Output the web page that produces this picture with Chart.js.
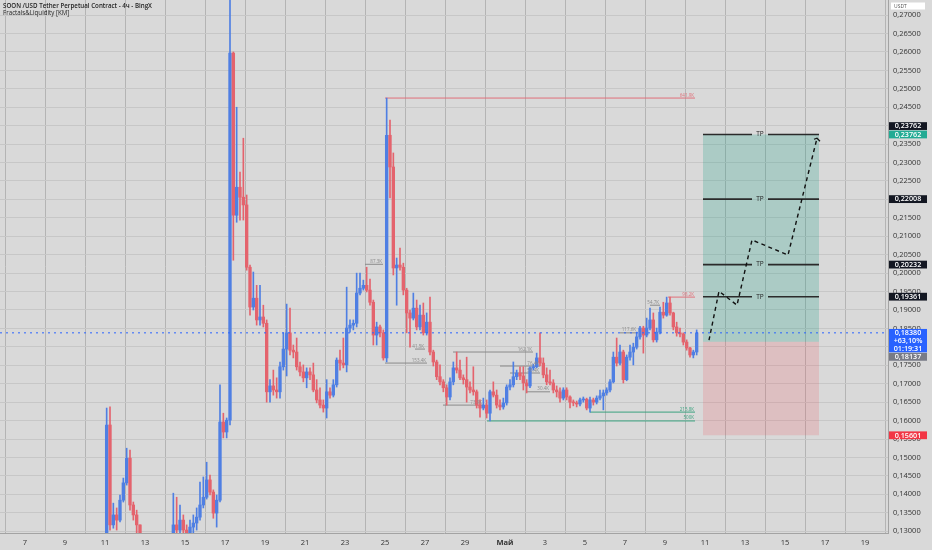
<!DOCTYPE html>
<html>
<head>
<meta charset="utf-8">
<script src="https://cdn.jsdelivr.net/npm/chart.js@4.4.1/dist/chart.umd.min.js"></script>
<style>
  html, body { margin: 0; padding: 0; background: #d9d9d9; }
  #wrap { width: 932px; height: 550px; position: relative; }
</style>
</head>
<body>
<div id="wrap"><canvas id="chart"></canvas></div>
<script>
// SOON/USDT 4h candles, 11 Apr -> 10 May (days counted from 7 Apr)
const firstOpen = 0.1225;
const closes = [
  0.1588,0.1317,0.1344,0.1330,0.1384,0.1431,0.1498,0.1371,0.1344,0.1317,
  0.1268,0.1250,0.1238,0.1245,0.1232,0.1225,0.1240,0.1252,0.1248,0.1262,
  0.1317,0.1303,0.1330,0.1303,0.1289,0.1311,0.1322,0.1338,0.1371,0.1392,
  0.1439,0.1406,0.1349,0.1384,0.1596,0.1569,0.1601,0.2597,0.2157,0.2233,
  0.2206,0.2185,0.2016,0.1908,0.1932,0.1873,0.1881,0.1864,0.1678,0.1694,
  0.1683,0.1678,0.1746,0.1794,0.1838,0.1791,0.1786,0.1746,0.1732,0.1716,
  0.1732,0.1724,0.1683,0.1656,0.1642,0.1634,0.1678,0.1669,0.1697,0.1764,
  0.1756,0.1751,0.1851,0.1859,0.1864,0.1946,0.1959,0.1967,0.1954,0.1921,
  0.1832,0.1854,0.1838,0.1770,0.2374,0.2288,0.2014,0.2022,0.2016,0.1954,
  0.1892,0.1878,0.1905,0.1854,0.1886,0.1838,0.1867,0.1786,0.1759,0.1719,
  0.1705,0.1689,0.1664,0.1705,0.1743,0.1737,0.1716,0.1711,0.1691,0.1683,
  0.1678,0.1642,0.1634,0.1642,0.1620,0.1678,0.1669,0.1642,0.1637,0.1648,
  0.1691,0.1697,0.1719,0.1729,0.1721,0.1702,0.1694,0.1743,0.1746,0.1770,
  0.1756,0.1724,0.1705,0.1702,0.1683,0.1678,0.1661,0.1683,0.1664,0.1650,
  0.1648,0.1645,0.1656,0.1658,0.1634,0.1656,0.1650,0.1661,0.1667,0.1675,
  0.1683,0.1705,0.1772,0.1756,0.1786,0.1711,0.1772,0.1786,0.1799,0.1827,
  0.1851,0.1832,0.1851,0.1873,0.1819,0.1840,0.1894,0.1886,0.1919,0.1892,
  0.1854,0.1838,0.1835,0.1813,0.1797,0.1778,0.1786,0.1838
];
const highs = [
  0.1634,0.1637,0.1376,0.1363,0.1398,0.1444,0.1525,0.1520,0.1379,0.1357,
  0.1317,0.1275,0.1262,0.1260,0.1255,0.1248,0.1258,0.1270,0.1265,0.1276,
  0.1403,0.1392,0.1371,0.1344,0.1317,0.1330,0.1344,0.1363,0.1433,0.1447,
  0.1487,0.1452,0.1412,0.1398,0.1697,0.1620,0.1607,0.2754,0.2600,0.2450,
  0.2274,0.2366,0.2212,0.2022,0.2003,0.1967,0.1967,0.1913,0.1873,0.1711,
  0.1737,0.1716,0.1759,0.1838,0.1916,0.1905,0.1805,0.1824,0.1759,0.1751,
  0.1743,0.1743,0.1756,0.1711,0.1689,0.1656,0.1711,0.1689,0.1711,0.1770,
  0.1791,0.1824,0.1962,0.1873,0.1873,0.2000,0.2000,0.1981,0.2016,0.1984,
  0.1927,0.1867,0.1859,0.1846,0.2475,0.2415,0.2326,0.2041,0.2068,0.2027,
  0.1959,0.1900,0.1946,0.1927,0.1913,0.1919,0.1892,0.1935,0.1791,0.1764,
  0.1751,0.1711,0.1697,0.1716,0.1759,0.1786,0.1764,0.1724,0.1772,0.1705,
  0.1746,0.1683,0.1656,0.1661,0.1656,0.1683,0.1705,0.1683,0.1656,0.1661,
  0.1697,0.1711,0.1759,0.1737,0.1746,0.1746,0.1711,0.1746,0.1753,0.1783,
  0.1838,0.1770,0.1743,0.1737,0.1711,0.1694,0.1689,0.1689,0.1689,0.1667,
  0.1656,0.1653,0.1661,0.1664,0.1661,0.1664,0.1661,0.1667,0.1683,0.1683,
  0.1689,0.1711,0.1786,0.1824,0.1805,0.1791,0.1778,0.1805,0.1810,0.1840,
  0.1856,0.1856,0.1878,0.1905,0.1892,0.1851,0.1908,0.1921,0.1935,0.1935,
  0.1894,0.1867,0.1851,0.1838,0.1819,0.1799,0.1791,0.1846
];
const lows = [
  0.1208,0.1303,0.1308,0.1303,0.1325,0.1379,0.1425,0.1357,0.1330,0.1289,
  0.1250,0.1235,0.1225,0.1228,0.1218,0.1210,0.1220,0.1236,0.1238,0.1245,
  0.1254,0.1276,0.1289,0.1276,0.1262,0.1276,0.1289,0.1303,0.1330,0.1363,
  0.1387,0.1398,0.1335,0.1311,0.1379,0.1553,0.1553,0.1588,0.2035,0.2138,
  0.2144,0.2144,0.2008,0.1886,0.1900,0.1859,0.1859,0.1854,0.1650,0.1650,
  0.1669,0.1661,0.1661,0.1737,0.1721,0.1778,0.1770,0.1737,0.1721,0.1705,
  0.1689,0.1711,0.1678,0.1648,0.1634,0.1623,0.1607,0.1661,0.1664,0.1691,
  0.1737,0.1743,0.1732,0.1840,0.1846,0.1854,0.1941,0.1954,0.1949,0.1913,
  0.1805,0.1805,0.1827,0.1764,0.1759,0.2204,0.1995,0.1913,0.2008,0.1941,
  0.1838,0.1799,0.1873,0.1846,0.1846,0.1832,0.1832,0.1778,0.1748,0.1711,
  0.1697,0.1678,0.1642,0.1656,0.1697,0.1729,0.1711,0.1699,0.1650,0.1675,
  0.1669,0.1634,0.1609,0.1629,0.1607,0.1599,0.1664,0.1634,0.1629,0.1631,
  0.1642,0.1683,0.1691,0.1711,0.1711,0.1683,0.1675,0.1689,0.1737,0.1743,
  0.1748,0.1716,0.1697,0.1697,0.1675,0.1664,0.1650,0.1656,0.1656,0.1634,
  0.1640,0.1637,0.1640,0.1650,0.1629,0.1623,0.1642,0.1645,0.1656,0.1629,
  0.1669,0.1678,0.1702,0.1748,0.1751,0.1702,0.1708,0.1764,0.1751,0.1794,
  0.1821,0.1783,0.1827,0.1846,0.1813,0.1813,0.1835,0.1878,0.1883,0.1886,
  0.1846,0.1829,0.1827,0.1805,0.1791,0.1772,0.1770,0.1778
];

// bottom axis labels, one every 2 days starting 7 Apr
const xTickLabels = ['7','9','11','13','15','17','19','21','23','25','27','29',
                     'Май','3','5','7','9','11','13','15','17','19'];
const yTickMin = 0.13, yTickMax = 0.27, yTickStep = 0.005;

// Fractals & Liquidity levels
const levelPrices = [0.2475, 0.1935, 0.1623, 0.1599, 0.2024, 0.1756, 0.1794, 0.1786, 0.1748, 0.1729, 0.1642, 0.1678, 0.1838, 0.1913];
const levelStart  = [18.0, 32.15, 28.25, 23.1, 17.0, 18.0, 19.5, 21.4, 23.75, 24.25, 20.9, 25.1, 29.75, 31.25];
const levelEnd    = [33.5, 33.5, 33.5, 33.5, 17.9, 20.1, 20.0, 25.4, 25.75, 25.75, 22.9, 26.25, 30.6, 31.75];
const levelKind   = ['high','high','low','low','mid','mid','mid','mid','mid','mid','mid','mid','mid','mid'];
const levelLabels = ['641.9K','98.2K','215.8K','500K','87.3K','153.4K','41.5K','162.1K','76.4K','56.4K','73.9K','30.4K','117.6K','54.7K'];

// long position tool
const tpLevels = [0.23762, 0.22008, 0.20232, 0.19361];
const entryPrice = 0.18137;
const stopPrice = 0.15601;
const posStart = 33.9, posEnd = 39.7, tpLabelDay = 36.75;

// hand-drawn projection path
const projDays   = [34.2, 34.7, 35.6, 36.35, 38.15, 39.6];
const projPrices = [0.1818, 0.1951, 0.1913, 0.2090, 0.2049, 0.2366];

const lastPrice = 0.18380;
const lastChange = '+63,10%';
const countdown = '01:19:31';

const UP = '#4f7fe3', DOWN = '#e4636d';
const X_MIN = -1.25, X_MAX = 43.15, Y_MIN = 0.1295, Y_MAX = 0.2741;
const FIRST_DAY = 4, CANDLE_DAYS = 1 / 6;

const fmt = v => v.toFixed(5).replace('.', ',');
const opens = [firstOpen].concat(closes.slice(0, -1));
const times = closes.map((c, i) => FIRST_DAY + (i + 0.5) * CANDLE_DAYS);
const candleColors = closes.map((c, i) => c >= opens[i] ? UP : DOWN);

const levelColor = { high: '#e0707a', low: '#3aa27f', mid: '#8a8a8a' };

const datasets = [];
// last price dotted line
datasets.push({
  type: 'line', order: 0,
  data: [{ x: X_MIN, y: lastPrice }, { x: X_MAX, y: lastPrice }],
  borderColor: '#2962ff', borderWidth: 1, borderDash: [2, 4], pointRadius: 0
});
// candle bodies and wicks
datasets.push({
  type: 'bar', order: 1, grouped: false, barThickness: 2.7, minBarLength: 1,
  data: times.map((t, i) => ({ x: t, y: [opens[i], closes[i]] })),
  backgroundColor: candleColors, borderWidth: 0
});
datasets.push({
  type: 'bar', order: 2, grouped: false, barThickness: 1,
  data: times.map((t, i) => ({ x: t, y: [lows[i], highs[i]] })),
  backgroundColor: candleColors, borderWidth: 0
});
// fractal levels
levelPrices.forEach((p, i) => {
  datasets.push({
    type: 'line', order: 3,
    data: [{ x: levelStart[i], y: p }, { x: levelEnd[i], y: p }],
    borderColor: levelColor[levelKind[i]], borderWidth: 1, pointRadius: 0
  });
});
// projection
datasets.push({
  type: 'line', order: 0,
  data: projDays.map((d, i) => ({ x: d, y: projPrices[i] })),
  borderColor: '#111', borderWidth: 1.4, borderDash: [4, 3.5], pointRadius: 0
});
// TP lines with a gap for the label
tpLevels.forEach(v => {
  datasets.push({
    type: 'line', order: 1,
    data: [{ x: posStart, y: v }, { x: tpLabelDay - 0.4, y: v }, { x: tpLabelDay, y: null },
           { x: tpLabelDay + 0.4, y: v }, { x: posEnd, y: v }],
    borderColor: '#2b2b2b', borderWidth: 1.6, pointRadius: 0, spanGaps: false
  });
});
// profit / risk zones
datasets.push({
  type: 'line', order: 5,
  data: [{ x: posStart, y: tpLevels[0] }, { x: posEnd, y: tpLevels[0] }],
  borderWidth: 0, pointRadius: 0, fill: { value: entryPrice },
  backgroundColor: 'rgba(8,153,129,0.22)'
});
datasets.push({
  type: 'line', order: 5,
  data: [{ x: posStart, y: entryPrice }, { x: posEnd, y: entryPrice }],
  borderWidth: 0, pointRadius: 0, fill: { value: stopPrice },
  backgroundColor: 'rgba(242,54,69,0.16)'
});

const overlay = {
  id: 'overlay',
  afterDatasetsDraw(chart) {
    const { ctx, scales: { x, y } } = chart;
    ctx.save();
    // level labels
    ctx.font = '4.5px "Open Sans"';
    ctx.textAlign = 'right';
    ctx.textBaseline = 'bottom';
    levelPrices.forEach((p, i) => {
      ctx.fillStyle = levelColor[levelKind[i]];
      ctx.fillText(levelLabels[i], x.getPixelForValue(levelEnd[i]) - 1, y.getPixelForValue(p) - 0.5);
    });
    // TP labels
    ctx.font = '6.5px "Open Sans"';
    ctx.textAlign = 'center';
    ctx.textBaseline = 'middle';
    ctx.fillStyle = '#222';
    tpLevels.forEach(v => ctx.fillText('TP', x.getPixelForValue(tpLabelDay), y.getPixelForValue(v)));
    // arrow head at the end of the projection
    const n = projDays.length;
    const x2 = x.getPixelForValue(projDays[n - 1]), y2 = y.getPixelForValue(projPrices[n - 1]);
    ctx.strokeStyle = '#111';
    ctx.lineWidth = 1.2;
    ctx.beginPath();
    ctx.moveTo(x2 - 3, y2 + 1);
    ctx.lineTo(x2, y2);
    ctx.lineTo(x2 + 3, y2 + 3);
    ctx.stroke();
    ctx.restore();
  },
  afterDraw(chart) {
    const { ctx, scales: { y } } = chart;
    ctx.save();
    // title
    ctx.fillStyle = '#1e1e1e';
    ctx.textAlign = 'left';
    ctx.textBaseline = 'middle';
    ctx.font = '600 6.2px "Open Sans"';
    ctx.fillText('SOON /USD Tether Perpetual Contract - 4ч - BingX', 3, 6);
    ctx.font = '6.2px "Open Sans"';
    ctx.fillText('Fractals&Liquidity [KM]', 3, 13);
    // currency box
    ctx.fillStyle = '#ffffff';
    ctx.fillRect(891, 2.5, 34, 7);
    ctx.fillStyle = '#555';
    ctx.font = '5px "Open Sans"';
    ctx.fillText('USDT', 894, 6.2);
    // price badges on the axis
    const badges = [
      { v: tpLevels[0], lines: [fmt(tpLevels[0])], bg: '#22ab94' },
      { v: tpLevels[0], lines: [fmt(tpLevels[0])], bg: '#131722', push: 'up' },
      { v: tpLevels[1], lines: [fmt(tpLevels[1])], bg: '#131722' },
      { v: tpLevels[2], lines: [fmt(tpLevels[2])], bg: '#131722' },
      { v: tpLevels[3], lines: [fmt(tpLevels[3])], bg: '#131722' },
      { v: lastPrice, lines: [fmt(lastPrice), lastChange, countdown], bg: '#2962ff' },
      { v: entryPrice, lines: [fmt(entryPrice)], bg: '#787b86', push: 'down' },
      { v: stopPrice, lines: [fmt(stopPrice)], bg: '#f23645' }
    ];
    const placed = [];
    const lh = 7.8;
    ctx.font = '600 7.2px "Open Sans"';
    ctx.textAlign = 'center';
    badges.forEach(b => {
      const h = b.lines.length * lh;
      let top = y.getPixelForValue(b.v) - lh / 2;
      placed.forEach(p => {
        if (top < p.top + p.h && top + h > p.top) {
          top = b.push === 'up' ? p.top - h - 0.6 : p.top + p.h + 0.6;
        }
      });
      placed.push({ top, h });
      ctx.fillStyle = b.bg;
      ctx.fillRect(889, top, 38, h);
      ctx.fillStyle = '#ffffff';
      b.lines.forEach((t, i) => ctx.fillText(t, 908, top + lh * i + lh / 2 + 0.3));
    });
    ctx.restore();
  }
};

new Chart(document.getElementById('chart'), {
  type: 'bar',
  data: { datasets },
  plugins: [overlay],
  options: {
    responsive: true,
    maintainAspectRatio: false,
    animation: false,
    layout: { padding: 0 },
    plugins: { legend: { display: false }, tooltip: { enabled: false } },
    scales: {
      x: {
        type: 'linear', min: X_MIN, max: X_MAX, offset: false,
        grid: { color: '#b4b4b4', drawTicks: false },
        border: { color: '#a3a3a3' },
        afterBuildTicks: s => { s.ticks = xTickLabels.map((l, i) => ({ value: i * 2 })); },
        afterFit: s => { s.height = 17; s.paddingLeft = 0; s.paddingRight = 0; },
        ticks: {
          autoSkip: false, maxRotation: 0, padding: 5, color: '#333',
          font: c => ({ family: 'Open Sans', size: 7.5, weight: c.tick && c.tick.label === 'Май' ? 'bold' : 'normal' }),
          callback: (v, i) => xTickLabels[i]
        }
      },
      y: {
        type: 'linear', position: 'right', min: Y_MIN, max: Y_MAX,
        grid: { color: '#c7c7c7', drawTicks: false },
        border: { color: '#a3a3a3' },
        afterBuildTicks: s => {
          const t = [];
          for (let k = 0; yTickMin + k * yTickStep <= yTickMax + 1e-9; k++) t.push({ value: yTickMin + k * yTickStep });
          s.ticks = t;
        },
        afterFit: s => { s.width = 44; s.paddingTop = 0; s.paddingBottom = 0; },
        ticks: {
          padding: 5, color: '#333',
          font: { family: 'Open Sans', size: 7.5 },
          callback: v => fmt(v)
        }
      }
    }
  }
});
</script>
</body>
</html>
